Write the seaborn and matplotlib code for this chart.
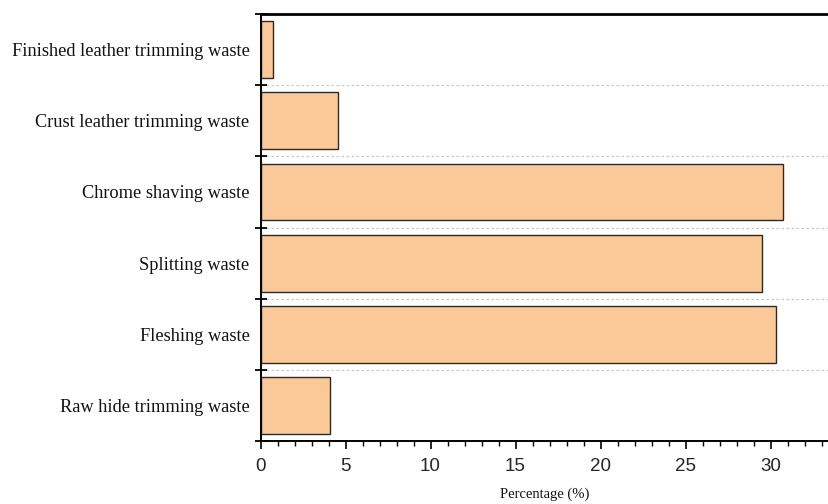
import matplotlib
matplotlib.use("Agg")
import matplotlib.pyplot as plt
from matplotlib.ticker import MultipleLocator, FixedLocator, NullFormatter
import seaborn as sns
import pandas as pd

categories = [
    "Finished leather trimming waste",
    "Crust leather trimming waste",
    "Chrome shaving waste",
    "Splitting waste",
    "Fleshing waste",
    "Raw hide trimming waste",
]
percentages = [0.73, 4.55, 30.75, 29.5, 30.35, 4.08]

sns.set_theme(style="ticks")
plt.rcParams["font.family"] = ["Liberation Serif", "DejaVu Serif"]

df = pd.DataFrame({"category": categories, "percentage": percentages})

fig = plt.figure(figsize=(8.29, 5.04), dpi=100)
ax = fig.add_axes([0.3143, 0.125, 1.0 - 0.3143, 0.847])

sns.barplot(data=df, x="percentage", y="category", order=categories,
            orient="h", color="#FAC997", edgecolor="#2a2a2a",
            linewidth=1.0, width=0.8, saturation=1, ax=ax)

n = len(categories)
ax.set_ylim(n - 0.5, -0.5)
ax.set_xlim(0, (829 - 260.5) / 17.0)

# category boundaries carry the ticks and the dotted separators
ax.yaxis.set_major_locator(FixedLocator([i - 0.5 for i in range(n + 1)]))
ax.yaxis.set_major_formatter(NullFormatter())
ax.yaxis.set_minor_locator(FixedLocator(list(range(n))))
ax.set_yticklabels(categories, minor=True)
ax.tick_params(axis="y", which="major", direction="inout", length=9, width=1.3, color="black")
ax.tick_params(axis="y", which="minor", length=0, pad=8, labelsize=13.2, labelcolor="#111111")
ax.yaxis.grid(True, which="major", linestyle=(0, (2, 2)), color="#c8c8c8", linewidth=0.9)
ax.set_axisbelow(True)

ax.xaxis.set_major_locator(MultipleLocator(5))
ax.xaxis.set_minor_locator(MultipleLocator(1))
ax.tick_params(axis="x", which="major", direction="out", length=6, width=1.2, color="black",
               labelsize=13.5, pad=6)
ax.tick_params(axis="x", which="minor", direction="out", length=3.5, width=1.0, color="black")
for lbl in ax.get_xticklabels():
    lbl.set_fontfamily(["Liberation Sans", "DejaVu Sans"])

ax.set_ylabel("")
ax.set_xlabel("Percentage (%)", fontsize=10.5, labelpad=9, color="#111111")

for side in ("left", "bottom"):
    ax.spines[side].set_linewidth(1.4)
    ax.spines[side].set_color("black")
ax.spines["top"].set_visible(True)
ax.spines["top"].set_linewidth(2.0)
ax.spines["top"].set_color("black")
ax.spines["right"].set_visible(False)

fig.savefig("out.png", dpi=100)
